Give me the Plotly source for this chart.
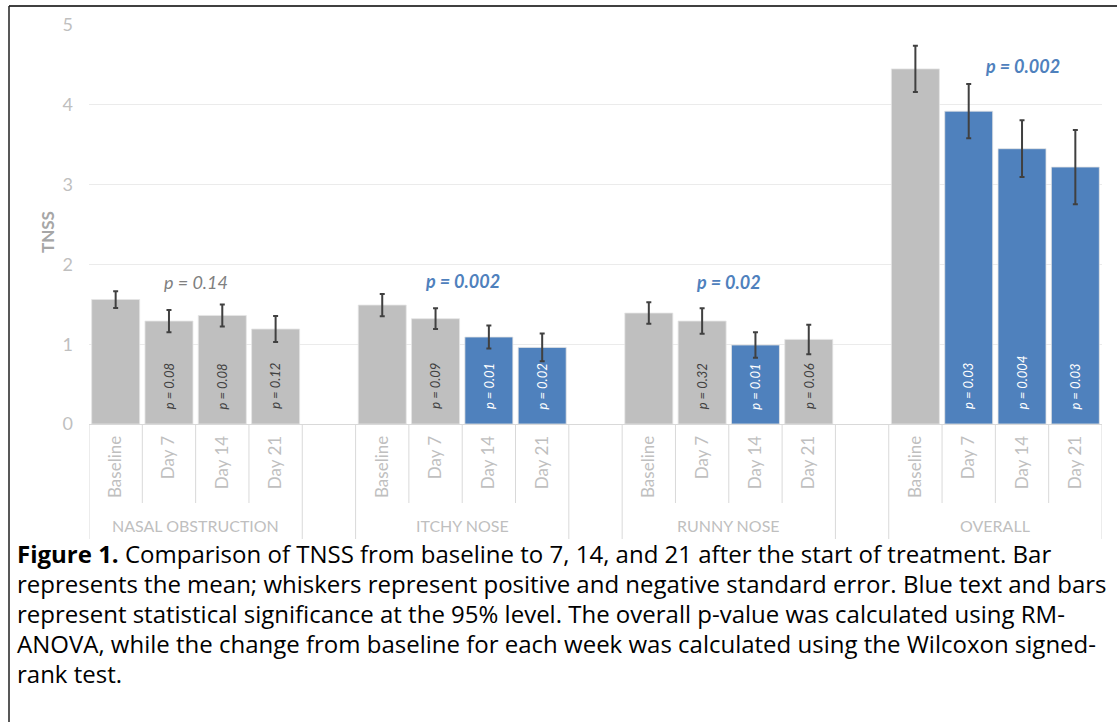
import plotly.graph_objects as go

# ---------------- data ----------------
groups = ["NASAL OBSTRUCTION", "ITCHY NOSE", "RUNNY NOSE", "OVERALL"]
timepoints = ["Baseline", "Day 7", "Day 14", "Day 21"]

nasal_mean = [1.56, 1.29, 1.36, 1.19]
nasal_se = [0.105, 0.14, 0.137, 0.163]
itchy_mean = [1.49, 1.32, 1.09, 0.96]
itchy_se = [0.14, 0.13, 0.145, 0.175]
runny_mean = [1.39, 1.29, 0.99, 1.06]
runny_se = [0.135, 0.16, 0.16, 0.185]
overall_mean = [4.45, 3.92, 3.45, 3.22]
overall_se = [0.29, 0.34, 0.355, 0.465]

nasal_p = ["", "p = 0.08", "p = 0.08", "p = 0.12"]
itchy_p = ["", "p = 0.09", "p = 0.01", "p = 0.02"]
runny_p = ["", "p = 0.32", "p = 0.01", "p = 0.06"]
overall_p = ["", "p = 0.03", "p = 0.004", "p = 0.03"]

nasal_sig = [False, False, False, False]
itchy_sig = [False, False, True, True]
runny_sig = [False, False, True, False]
overall_sig = [False, True, True, True]

group_p = ["p = 0.14", "p = 0.002", "p = 0.02", "p = 0.002"]
group_p_sig = [False, True, True, True]
group_p_y = [1.78, 1.79, 1.78, 4.49]

caption_lines = [
    "<b>Figure 1.</b> Comparison of TNSS from baseline to 7, 14, and 21 after the start of treatment. Bar",
    "represents the mean; whiskers represent positive and negative standard error. Blue text and bars",
    "represent statistical significance at the 95% level. The overall p-value was calculated using RM-",
    "ANOVA, while the change from baseline for each week was calculated using the Wilcoxon signed-",
    "rank test.",
]

# ---------------- styling ----------------
W, H = 1117, 722
FONT = "Lato"
CAP_FONT = "Open Sans"
GRAY = "#BFBFBF"
BLUE = "#4F81BD"
LABEL = "#BFBFBF"

means = [nasal_mean, itchy_mean, runny_mean, overall_mean]
ses = [nasal_se, itchy_se, runny_se, overall_se]
pvals = [nasal_p, itchy_p, runny_p, overall_p]
sigs = [nasal_sig, itchy_sig, runny_sig, overall_sig]

xs, ys, es, cols, ptxt, psig, ticks = [], [], [], [], [], [], []
for g in range(len(groups)):
    for t in range(len(timepoints)):
        xs.append(g * 5 + t)
        ys.append(means[g][t])
        es.append(ses[g][t])
        cols.append(BLUE if sigs[g][t] else GRAY)
        ptxt.append(pvals[g][t])
        psig.append(sigs[g][t])
        ticks.append(timepoints[t])

fig = go.Figure()
fig.add_trace(go.Bar(
    x=xs, y=ys, width=0.9,
    marker=dict(color=cols, line=dict(color="#E4E4E4", width=0.8)),
    error_y=dict(type="data", array=es, visible=True, color="#404040", thickness=2, width=2.5),
    hoverinfo="x+y", showlegend=False,
))

def px_x(p):
    return p / W

def px_y(p):
    return 1 - p / H

plot_l, plot_r, plot_t, plot_b = 89, 1102, 25, 424

annotations = []
# rotated p-values inside bars
for x, txt, s in zip(xs, ptxt, psig):
    if not txt:
        continue
    annotations.append(dict(
        x=x, y=0.16, xref="x", yref="y", text="<i>" + txt + "</i>",
        textangle=-90, showarrow=False, xanchor="center", yanchor="bottom",
        font=dict(family=FONT, size=13, color="white" if s else "#404040"),
    ))
# group p-values
for g, (txt, s, yy) in enumerate(zip(group_p, group_p_sig, group_p_y)):
    annotations.append(dict(
        x=g * 5 + (2.0 if g == 3 else 1.5), y=yy, xref="x", yref="y",
        text=("<b><i>" + txt + "</i></b>") if s else ("<i>" + txt + "</i>"),
        showarrow=False, xanchor="center", yanchor="middle",
        font=dict(family=FONT, size=18, color=BLUE if s else "#808080"),
    ))
# group labels
for g, name in enumerate(groups):
    annotations.append(dict(
        x=g * 5 + 1.5, y=px_y(525), xref="x", yref="paper", text=name,
        showarrow=False, xanchor="center", yanchor="middle",
        font=dict(family=FONT, size=16, color=LABEL),
    ))
# y-axis title
annotations.append(dict(
    x=px_x(47), y=px_y(232), xref="paper", yref="paper", text="<b>TNSS</b>",
    textangle=-90, showarrow=False, xanchor="center", yanchor="middle",
    font=dict(family=FONT, size=17, color="#A6A6A6"),
))
# caption
cap_y = [553, 583, 613, 643, 673]
for line, cy in zip(caption_lines, cap_y):
    annotations.append(dict(
        x=px_x(16), y=px_y(cy), xref="paper", yref="paper", text=line,
        showarrow=False, xanchor="left", yanchor="middle", align="left",
        borderpad=0,
        font=dict(family=CAP_FONT, size=24, color="black"),
    ))

shapes = []
# category table lines
for g in range(len(groups)):
    for t in range(len(timepoints) - 1):
        xx = g * 5 + t + 0.5
        shapes.append(dict(type="line", xref="x", yref="paper", x0=xx, x1=xx,
                           y0=px_y(plot_b), y1=px_y(503), line=dict(color="#D9D9D9", width=1)))
long_x = []
for g in range(len(groups)):
    long_x += [g * 5 - 0.5, g * 5 + 3.5]
for xx in long_x:
    shapes.append(dict(type="line", xref="x", yref="paper", x0=xx, x1=xx,
                       y0=px_y(plot_b), y1=px_y(539), line=dict(color="#D9D9D9", width=1)))
# frame lines
shapes.append(dict(type="line", xref="paper", yref="paper", x0=px_x(9), x1=1,
                   y0=px_y(6), y1=px_y(6), line=dict(color="#404040", width=2)))
shapes.append(dict(type="line", xref="paper", yref="paper", x0=px_x(9), x1=px_x(9),
                   y0=px_y(6), y1=0, line=dict(color="#202020", width=1.5)))

fig.update_layout(
    width=W, height=H, autosize=False,
    margin=dict(l=0, r=0, t=0, b=0, autoexpand=False),
    paper_bgcolor="white", plot_bgcolor="white",
    font=dict(family=FONT),
    xaxis=dict(
        domain=[px_x(plot_l), px_x(plot_r)], range=[-0.5, 18.5], automargin=False,
        tickmode="array", tickvals=xs, ticktext=ticks, tickangle=-90,
        tickfont=dict(family=FONT, size=17, color=LABEL), ticklabelstandoff=4,
        showgrid=False, zeroline=False, showline=True, linecolor="#D9D9D9", linewidth=1,
        ticks="", fixedrange=True,
    ),
    yaxis=dict(
        domain=[px_y(plot_b), px_y(plot_t)], range=[0, 5], dtick=1, automargin=False,
        tickfont=dict(family=FONT, size=18, color=LABEL),
        showgrid=True, gridcolor="#EBEBEB", gridwidth=1, zeroline=False, showline=False,
        ticks="", ticklabelstandoff=15, fixedrange=True,
    ),
    annotations=annotations, shapes=shapes, bargap=0.1,
)

fig.write_html("out.html", post_script="document.body.style.margin='0px';",
               config={"displayModeBar": False})
